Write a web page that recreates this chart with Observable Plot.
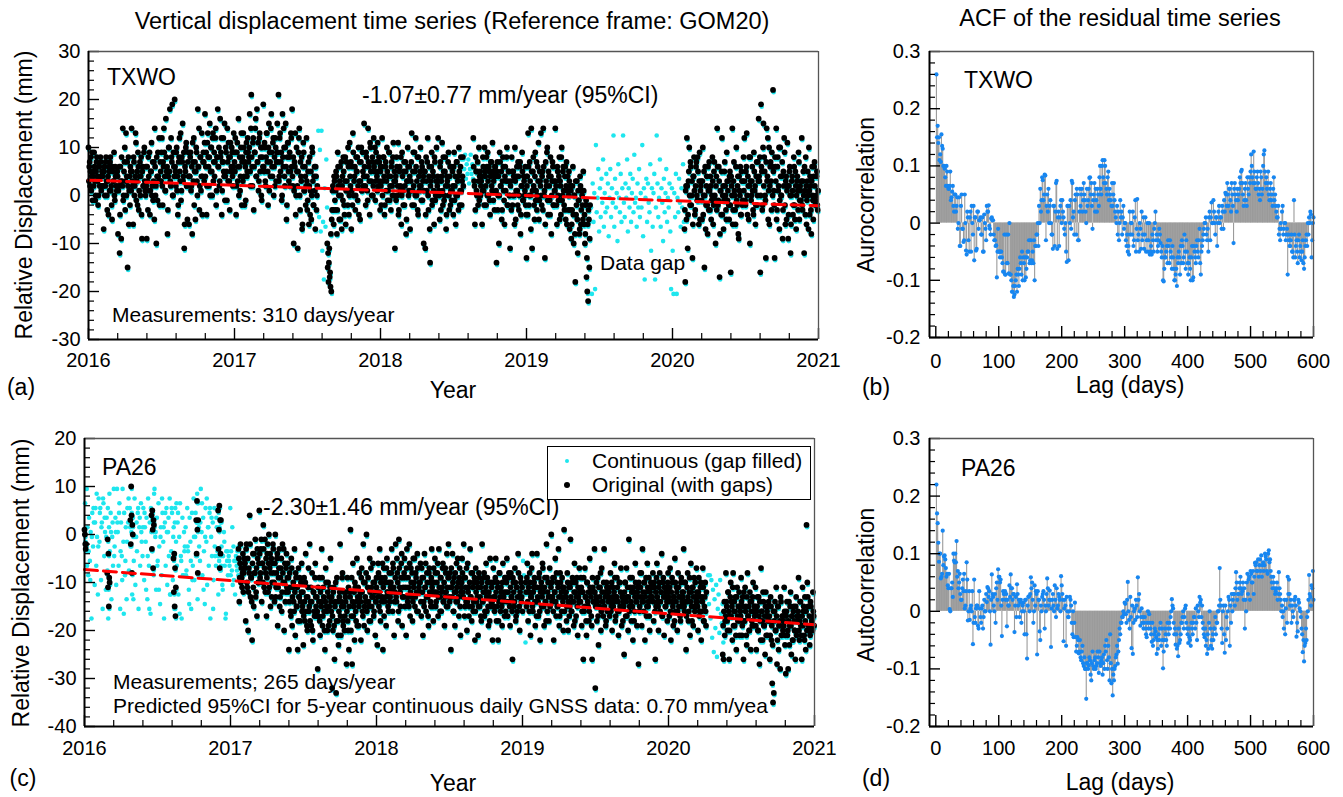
<!DOCTYPE html>
<html><head><meta charset="utf-8">
<script src="https://cdn.jsdelivr.net/npm/d3@7"></script>
<script src="https://cdn.jsdelivr.net/npm/@observablehq/plot@0.6"></script>
<style>
html,body{margin:0;padding:0;background:#fff;}
#fig{position:relative;width:1343px;height:797px;overflow:hidden;font-family:"Liberation Sans",Arial,Helvetica,sans-serif;color:#000;}
.lbl{position:absolute;white-space:nowrap;line-height:1.15;}
.pl{position:absolute;}
</style></head><body><div id="fig"></div>
<script>
const _ = null;
// ---- TXWO original series (mm): "a" arrays = even days from 1 Jan, "b" arrays = odd days from 2 Jan, every 2 days ----
const txwo2016a = [10,6,2,8,4,-1,5,9,3,0,7,4,-2,6,2,8,1,5,
4,-7,6,2,8,0,3,-4,5,7,1,-2,6,3,9,-1,4,2,
5,-8,2,-12,6,-9,3,14,0,7,-3,13,4,-15,8,1,-2,5,
14,3,-6,7,2,13,-1,5,9,-3,4,0,8,-9,6,2,10,1,
6,-9,3,8,1,-4,5,11,2,-1,7,14,0,-10,4,9,3,-2,
7,3,12,-2,6,9,1,16,5,-8,4,10,18,2,8,19,0,6,
20,5,9,1,-4,7,12,3,-1,8,15,4,-11,6,10,2,-5,9,
-6,4,9,2,-8,7,12,5,-5,10,3,18,6,-3,8,1,13,4,
9,3,17,6,-4,11,8,2,15,5,10,0,13,7,4,12,-2,8,
18,6,2,16,9,-4,7,12,4,-1,10,5,14,3,8,-3,11,6,9,2,13];
const txwo2016b = [3,7,5,1,9,4,2,6,-1,5,8,3,0,6,4,7,2,5,
2,5,0,7,3,-3,4,6,1,8,2,-5,5,3,0,6,4,1,
4,1,6,-4,3,8,2,-1,5,10,3,0,7,2,-6,4,6,1,
5,2,8,0,4,11,3,-2,6,1,7,4,-4,5,2,9,3,0,
2,6,-3,4,9,1,5,0,7,3,-5,6,2,8,-1,4,12,3,
5,9,2,7,14,4,1,8,6,-3,10,5,3,12,7,0,9,4,
6,2,10,4,-2,8,5,13,1,7,3,9,-6,5,11,2,7,4,
4,8,1,6,11,3,-2,7,5,9,0,6,14,2,8,4,-4,7,
7,11,4,9,2,13,6,8,0,10,5,12,3,9,7,14,1,8,
6,10,3,8,12,1,7,5,15,4,9,-1,7,11,3,8,5,10,4,6,9];
const txwo2017a = [7,12,-4,9,3,16,6,1,10,-2,8,13,4,7,-1,11,5,9,
8,17,2,21,6,11,-3,9,14,4,18,7,1,12,5,10,-1,8,
19,5,10,2,13,7,-2,15,9,4,17,6,11,0,8,12,3,9,
9,21,4,13,7,-1,17,6,10,2,15,-5,8,11,3,9,5,12,
18,2,-10,7,13,0,5,-11,9,14,-3,4,8,-6,11,1,6,-2,
12,-3,5,-6,8,1,-5,10,3,-2,6,-7,4,0,_,_,_,_,
_,_,_,_,_,_,_,_,-10,-12,-14,-17,-19,-20,-3,2,-6,3,
-3,5,-8,9,2,-5,6,0,-7,4,8,-2,3,-6,7,1,10,-4,
11,2,-7,6,13,0,4,-3,8,5,-1,10,3,-5,7,1,9,2,
15,4,-2,8,1,14,6,-4,10,3,7,0,12,5,-1,9,4,11,2,7,-3];
const txwo2017b = [5,9,2,11,6,0,8,4,13,7,3,10,-2,6,9,4,12,7,
10,5,14,8,2,12,6,9,16,4,7,11,3,13,8,0,10,6,
6,11,3,8,13,5,10,1,7,14,9,4,12,6,2,10,7,15,
7,3,12,5,9,0,8,14,4,10,6,-2,11,5,8,2,13,6,
4,8,1,6,-4,10,2,5,12,0,7,3,-7,6,9,1,4,2,
3,-1,7,2,-4,5,0,9,-2,4,1,6,-3,2,_,_,_,_,
_,_,_,_,_,_,_,_,-15,-18,-11,-16,-8,-5,1,-3,4,-1,
1,4,-3,6,0,3,-5,7,2,-1,5,-4,8,1,3,-2,6,0,
4,7,1,-2,9,3,6,0,5,8,2,-4,7,3,10,1,5,4,
6,2,9,4,-1,7,3,11,5,0,8,2,6,10,3,7,1,5,8,3,6];
const txwo2018a = [5,-2,12,3,8,-4,6,1,10,-1,4,9,2,-3,7,0,11,3,
-11,4,8,0,11,-3,6,2,-6,9,1,5,-2,7,-8,3,10,0,
6,-7,3,13,1,9,-2,5,12,0,8,-4,4,2,10,-1,6,3,
-10,5,-11,8,1,12,-3,6,-14,3,9,-1,4,-6,7,0,10,2,
12,1,-5,7,3,11,-2,5,0,8,-7,4,2,9,-3,6,1,-1,
5,-4,9,2,-6,7,0,4,10,-2,6,1,3,8,_,_,_,_,
_,_,_,_,_,_,_,_,12,3,-6,8,1,5,-2,10,4,0,
3,-6,8,1,10,4,-2,6,9,0,5,-4,7,2,11,-1,4,6,
4,-14,7,0,-10,9,2,5,-3,8,1,-6,6,3,10,-2,5,0,
-11,3,8,-2,5,0,10,-5,4,1,7,-3,6,-8,2,9,-1,4,0,6,-4];
const txwo2018b = [2,6,0,8,4,-2,7,3,5,1,9,-1,4,6,2,8,0,5,
3,-1,6,2,-4,5,1,8,0,4,-2,7,2,5,-5,3,6,1,
4,1,7,-2,5,2,9,0,6,3,-3,8,1,5,2,7,-1,4,
1,5,-4,3,7,0,4,-7,2,6,-2,5,1,8,-1,3,0,4,
3,0,6,-3,4,1,8,-1,5,2,-4,3,7,0,4,-2,6,1,
2,6,-1,4,0,7,3,-3,5,1,8,-2,4,2,_,_,_,_,
_,_,_,_,_,_,_,_,6,2,-3,5,0,7,3,-1,5,2,
4,1,6,-2,5,2,8,0,3,6,-1,4,7,1,5,3,-3,6,
1,5,-3,4,0,7,2,-5,3,6,-1,4,1,8,-2,3,5,0,
2,-3,5,0,4,-6,3,1,6,-2,4,0,7,-4,2,5,-1,3,1,-2,4];
const txwo2019a = [-13,4,13,-2,7,0,14,-11,5,2,-5,9,1,-3,6,11,-1,3,
13,-2,5,14,0,-13,7,2,10,-4,4,-1,8,-8,3,6,-2,1,
14,2,-6,5,-1,8,3,-4,10,0,6,-2,4,-5,7,1,-3,5,
-7,2,-9,-3,6,-10,0,-18,-4,3,-12,-1,-8,4,-6,1,-2,5,
-6,-10,-2,-17,-20,-22,-5,-9];
const txwo2019b = [2,-4,6,0,3,-7,5,1,8,-2,4,-1,7,0,3,-5,5,2,
0,4,-3,6,1,-6,3,9,-1,5,2,-4,4,0,7,-2,3,1,
3,-2,6,0,4,-5,2,8,-1,5,1,-3,6,2,-6,4,0,3,
-3,1,-6,2,-4,0,-8,3,-2,-5,1,-1,-7,2,-3,0,-5,1,
-4,-8,-1,-13,-6,-3,-15,-2];
const txwo2020a = [_,_,_,_,_,_,_,_,_,_,_,_,_,_,_,-7,-18,2,
12,-11,3,10,-2,6,0,-13,4,8,-4,2,7,-1,5,-6,9,1,
3,-5,10,0,-15,6,-2,4,-8,1,7,-3,2,-1,8,-6,5,0,
-10,4,14,-2,6,-17,1,-4,12,0,-7,5,2,-3,9,-1,3,-5,
5,-16,2,14,-3,7,0,-6,10,-2,4,-9,1,6,-4,3,-1,8,
12,-1,5,13,-4,2,8,-10,3,0,6,-3,9,1,-6,4,-2,7,
16,3,-16,19,5,-2,15,8,0,-13,14,4,-5,10,2,7,-3,6,
22,1,-13,6,14,-3,8,2,-7,10,0,4,-9,5,12,-2,3,-5,
11,-9,2,6,-12,0,4,-4,8,-2,5,-7,3,1,9,-5,2,-1,
12,-3,5,-12,1,8,-6,3,0,10,-4,2,-8,6,-1,4,7,-2,0,5,-3];
const txwo2020b = [_,_,_,_,_,_,_,_,_,_,_,_,_,_,_,-3,1,-5,
2,-4,5,0,7,-2,3,-6,4,1,-3,6,0,8,-1,3,-5,2,
-1,3,-4,5,0,-7,2,-2,6,-3,1,4,-5,0,3,-2,7,-1,
2,-3,6,-1,3,-8,1,5,-4,2,-1,7,0,-5,3,1,-2,4,
-2,4,0,-6,3,1,-3,6,-1,2,-8,4,0,-4,5,-2,3,1,
3,-2,6,0,4,-5,2,8,-1,3,1,-4,5,2,-2,7,0,3,
4,8,0,6,-3,10,2,5,-1,7,3,12,1,-6,6,3,9,0,
5,-2,8,3,-5,6,1,10,-1,4,0,7,-3,2,9,-6,4,1,
2,-4,5,0,-6,3,1,-2,6,-5,2,0,4,-3,7,-1,1,3,
-2,3,0,6,-4,2,-1,5,-7,1,4,-3,3,0,-5,6,2,-1,4,-2,1];
// ---- TXWO gap-filled values (continuous series where the original is missing), every 2 days ----
const txwoFill2017Start = "2017-07-28";
const txwoFill2017 = [14,-4,10,-7,14,-11,-5,-17,2,-6,8,-2];
const txwoFill2018Start = "2018-07-28";
const txwoFill2018 = [6,9,4,7,5,8,3,6,9,5,7,4];
const txwoFill2019Start = "2019-06-10";
const txwoFill2019 = [-2,-20,3,-5,1,-19,11,-3,0,6,-7,2,-4,4,-1,8,-6,1,-3,5,
-2,3,-8,0,6,-4,2,-1,13,-6,4,-2,1,-9,7,0,-3,5,-5,2,
13,-1,-4,3,0,8,-7,2,-2,5,-5,1,4,-3,9,-1,0,-6,3,-2,
6,-4,1,-2,11,-8,2,-17,0,4,-5,3,-1,-3,7,-11,2,-6,1,5,
-17,-2,13,3,-4,0,8,-6,2,-1,-9,4,-3,1,6,-5,0,-2,3,-7,
-19,2,-11,-20,1,-4,5,-20,0,-3,4,-1,-6,2,-2,7,-5];
const txwoTrendYears = [2016, 2021];
const txwoTrendValues = [3.2, -2.15];

// ---- PA26 original series ----
const pa26Runs2016Start = ["2016-01-01","2016-02-27","2016-04-25","2016-06-17","2016-08-11","2016-10-07","2016-12-01"];
const pa26Runs2016 = [[1,0,-2,-3,-2],[-8,-1,-11,-4,-15,-9,-10],[3,-2,10,4,-8,2,0],[4,-3,5,1,-7,3,2],
[-5,-12,-4,-15,-7,-17,-11],[3,-4,7,1,-8,3],[5,-3,1,6,-7,3,-4,3]];
const pa26_2017a = [_,_,_,_,_,_,_,_,_,_,-3,-14,-6,-10,-9,-8,-12,-5,
-6,-18,-2,-11,-20,-7,4,-13,-9,-22,-4,-15,-8,-1,-12,-17,-5,-10,
5,-9,-3,-14,-6,2,-11,-1,-8,-17,-4,-12,0,-7,-15,-5,-10,-2,
-8,-14,0,-11,-5,-19,-9,-3,-13,-7,-16,-2,-10,-20,-6,-12,-4,-9,
-12,-24,-8,-16,-5,-19,-11,-14,-3,-21,-9,-15,-24,-7,-13,-18,-10,-6,
-15,-23,-9,-18,-4,-13,-20,-11,-16,-2,-14,-19,-8,-22,-12,-17,-6,-15,
-13,-28,-17,-9,-21,-14,-3,-19,-11,-16,-24,-7,-15,-20,-10,-13,-18,-5,
-16,-32,-20,-11,-26,-14,-33,-9,-18,-23,-13,-2,-21,-15,-8,-19,-12,-17,
-14,-27,-9,-20,-24,-12,1,-17,-27,-6,-15,-22,-11,-18,-5,-13,-19,-8,
-12,-22,-7,-16,-2,-19,-10,-14,0,-20,-9,-15,-5,-18,-11,-13,-6,-17,-10,-21,-14];
const pa26_2017b = [_,_,_,_,_,_,_,_,_,_,-5,-9,-2,-7,-11,-4,-8,-6,
-7,-3,-10,-5,-12,-8,-2,-9,-14,-6,-11,-4,-8,-13,-7,-3,-10,-6,
-4,-8,-1,-6,-10,-3,-7,-12,-5,-9,-2,-6,-11,-4,-8,-13,-6,-3,
-10,-6,-13,-8,-4,-11,-7,-15,-9,-5,-12,-8,-3,-10,-14,-7,-11,-6,
-9,-14,-11,-17,-7,-13,-10,-16,-12,-8,-15,-11,-18,-13,-9,-14,-12,-16,
-12,-17,-14,-10,-16,-19,-13,-7,-15,-18,-11,-14,-20,-12,-16,-9,-13,-17,
-16,-11,-14,-18,-12,-15,-9,-17,-13,-20,-14,-10,-16,-12,-19,-15,-11,-14,
-13,-17,-12,-19,-15,-10,-18,-14,-21,-16,-12,-17,-14,-9,-18,-15,-20,-13,
-12,-16,-18,-11,-15,-13,-20,-9,-14,-17,-12,-10,-16,-14,-19,-11,-15,-13,
-14,-9,-12,-17,-10,-15,-13,-8,-16,-11,-14,-18,-12,-7,-15,-13,-10,-16,-12,-14,-9];
const pa26_2018a = [-11,-23,-6,-15,-3,-18,-9,-13,-24,-7,-14,-10,-19,-5,-12,-16,-8,-13,
-10,-3,-16,-7,-21,-12,-2,-14,-8,-18,-1,-11,-15,-6,-19,-9,-13,-5,
-9,-21,-3,-14,-11,-2,-17,-7,-13,-18,-5,-10,-15,-8,-12,-4,-16,-11,
-12,-6,-17,-9,-21,-14,-4,-11,-16,-8,-13,-19,-7,-10,-15,-3,-12,-18,
-10,-5,-15,-12,-8,-17,-3,-13,-9,-16,-11,-6,-14,-19,-7,-12,-4,-15,
-2,-13,-8,-24,-11,-4,-16,-9,-19,-12,-6,-14,-10,-17,-7,-21,-11,-5,
-12,-2,-17,-9,-14,-20,-6,-11,-15,-3,-13,-18,-8,-16,-10,-22,-7,-14,
-13,-21,-8,-15,-11,-18,-2,-14,-9,-17,-12,-6,-16,-10,-19,-13,-5,-15,
-11,-22,-7,-15,-13,-5,-18,-10,-22,-14,-8,-16,-12,-19,-6,-13,-17,-9,
-12,-5,-17,-9,-14,-19,-8,-13,-26,-10,-15,-7,-18,-11,-16,-4,-13,-20,-9,-14,-11];
const pa26_2018b = [-9,-13,-8,-12,-16,-10,-14,-6,-11,-17,-9,-13,-7,-12,-15,-10,-14,-11,
-8,-12,-6,-11,-14,-9,-13,-5,-10,-16,-7,-12,-9,-4,-13,-11,-8,-15,
-11,-7,-13,-9,-15,-6,-12,-10,-8,-14,-11,-5,-13,-9,-16,-7,-12,-10,
-10,-14,-7,-12,-9,-15,-11,-6,-13,-10,-17,-8,-12,-14,-9,-11,-15,-7,
-12,-8,-14,-10,-6,-13,-11,-16,-9,-12,-7,-14,-10,-13,-8,-15,-11,-9,
-9,-14,-11,-7,-13,-10,-16,-12,-8,-14,-11,-5,-13,-9,-15,-12,-10,-8,
-13,-9,-15,-11,-7,-14,-12,-17,-10,-13,-8,-15,-11,-14,-9,-16,-12,-10,
-11,-15,-9,-13,-17,-10,-14,-12,-8,-16,-11,-13,-9,-15,-12,-18,-10,-14,
-14,-10,-13,-16,-9,-12,-15,-11,-18,-8,-13,-11,-15,-10,-14,-12,-9,-16,
-10,-14,-12,-8,-15,-11,-13,-16,-9,-12,-14,-10,-17,-11,-13,-8,-15,-12,-10,-13,-16];
const pa26_2019a = [_,_,_,_,-10,-15,-6,-18,-12,-8,-21,-13,-4,-16,-11,-9,-19,-14,
-4,-13,-17,-8,-22,-11,-15,-6,-12,-19,-9,-14,-2,-16,-10,-18,-7,-13,
0,-14,-9,-22,-12,-5,-17,-10,-15,-3,-19,-8,-13,-16,-11,-20,1,-12,
-13,-18,-8,-20,-11,-15,-1,-16,-10,-14,-19,-6,-12,-17,-9,-21,-13,-7,
-14,-9,-19,-12,-26,-16,-7,-13,-21,-10,-15,-18,-5,-12,-17,-26,-11,-14,
-3,-32,-13,-18,-9,-23,-15,-11,-20,-7,-14,-17,-3,-12,-19,-10,-16,-13,
-12,-17,-8,-15,-20,-11,-14,-6,-18,-13,-9,-16,-21,-10,-15,-7,-19,-13,
-14,-25,-10,-17,-7,-13,-20,-1,-15,-11,-18,-9,-22,-12,-16,-6,-14,-19,
-11,-27,-16,-8,-13,-19,-3,-14,-10,-22,-12,-17,-6,-15,-9,-20,-13,-11,
-13,-8,-18,-11,-26,-15,-6,-14,-20,-10,-16,-12,-4,-17,-9,-21,-13,-15,-11,-18,-8];
const pa26_2019b = [_,_,_,_,-12,-9,-14,-11,-16,-10,-13,-7,-15,-12,-10,-14,-11,-17,
-11,-14,-9,-16,-12,-10,-13,-7,-15,-11,-14,-18,-9,-12,-13,-10,-15,-11,
-10,-13,-16,-9,-12,-14,-8,-15,-11,-13,-17,-10,-12,-9,-14,-11,-16,-13,
-12,-15,-10,-14,-17,-11,-13,-16,-9,-14,-12,-18,-10,-13,-15,-11,-14,-12,
-14,-11,-16,-12,-9,-15,-13,-18,-10,-14,-12,-16,-11,-13,-19,-9,-14,-12,
-12,-15,-10,-14,-17,-11,-13,-8,-16,-12,-14,-10,-15,-13,-18,-11,-12,-14,
-11,-14,-16,-10,-13,-15,-12,-9,-17,-13,-11,-14,-16,-10,-12,-15,-13,-18,
-15,-12,-10,-14,-17,-11,-13,-16,-9,-14,-12,-15,-11,-18,-13,-10,-14,-12,
-13,-10,-15,-11,-8,-14,-12,-16,-10,-13,-9,-15,-11,-14,-17,-12,-10,-13,
-11,-14,-10,-16,-12,-9,-13,-15,-11,-8,-14,-12,-17,-10,-13,-11,-15,-12,-14,-10,-13];
const pa26_2020a = [-12,-17,-7,-22,-14,-10,-19,-13,-5,-16,-11,-20,-8,-15,-13,-18,-9,-14,
-13,-3,-16,-10,-24,-14,-8,-18,-12,-21,-6,-15,-11,-19,-9,-16,-13,-7,
-14,-20,-9,-16,-11,-22,-13,-7,-18,-15,-10,-19,_,_,_,_,_,_,
_,_,_,_,_,_,_,_,_,_,_,_,_,_,-25,-26,-14,-18,
-8,-15,-20,-12,-26,-17,-10,-14,-22,-8,-16,-19,-13,-24,-11,-18,-15,-21,
-16,-9,-21,-13,-26,-18,-11,-15,-23,-8,-17,-20,-12,-24,-14,-19,-10,-16,
-17,-11,-24,-15,-20,-13,-27,-18,-7,-16,-22,-14,-19,-25,-12,-17,-21,-15,
-18,-26,-13,-22,-31,-35,-33,-16,-20,-11,-27,-15,-24,-19,-28,-14,-21,-17,
-18,-11,-23,-29,-16,-21,-28,-14,-19,-12,-25,-17,-22,-15,-20,-26,-13,-18,
-17,-9,-22,-14,-19,-26,-11,-16,-21,-13,-24,2,-10,-15,-20,-23,-14,-19,-18,-12,-17];
const pa26_2020b = [-14,-11,-16,-12,-9,-15,-13,-18,-10,-14,-12,-16,-11,-13,-17,-10,-15,-12,
-12,-15,-10,-14,-17,-11,-13,-16,-9,-14,-12,-18,-11,-13,-15,-10,-14,-12,
-15,-12,-17,-13,-10,-16,-14,-11,-18,-13,-16,-12,_,_,_,_,_,_,
_,_,_,_,_,_,_,_,_,_,_,_,_,_,-19,-16,-21,-17,
-14,-18,-12,-16,-20,-13,-17,-15,-11,-19,-14,-16,-21,-13,-17,-15,-12,-18,
-17,-14,-19,-15,-12,-18,-16,-21,-13,-17,-15,-20,-14,-16,-18,-13,-19,-15,
-15,-19,-16,-13,-20,-17,-14,-22,-16,-18,-12,-19,-17,-15,-21,-16,-18,-14,
-17,-21,-15,-19,-23,-16,-18,-14,-20,-17,-22,-15,-19,-18,-13,-21,-17,-20,
-19,-16,-21,-17,-14,-20,-18,-23,-15,-19,-17,-22,-16,-18,-20,-15,-21,-17,
-16,-20,-18,-14,-21,-17,-19,-15,-22,-18,-16,-20,-13,-19,-17,-21,-15,-18,-20,-16,-19];
// ---- PA26 gap-filled values ----
const pa26Fill2016aStart = "2016-01-01";   // every 2 days
const pa26Fill2016a = [7,-3,10,2,-8,4,-5,1,-17,5,-2,3,-10,6,-6,0,-12,8,
-1,6,-9,3,-15,7,-4,1,-11,4,-7,-17,2,-3,5,-13,0,-6,
10,-2,4,-10,10,1,-6,7,-15,3,-4,10,-1,5,-8,2,-13,6,
3,-7,6,-2,1,-12,4,-5,8,-10,0,-3,5,-15,2,-6,7,-1,
-4,6,-9,2,-1,4,-13,8,-6,3,-16,1,-3,5,-8,10,0,-11,
4,-5,7,-2,-14,2,-8,5,-1,-17,3,-6,6,-10,1,-4,8,-12,
-3,5,-9,2,-15,6,-1,-6,3,-12,0,7,-4,-17,4,-8,1,-2,
2,-7,6,-3,-11,4,-1,-15,5,-6,8,-9,0,-4,3,-13,7,-2,
-5,10,1,-8,4,-3,-14,6,-1,-10,2,-6,5,-17,0,-4,3,-9,
6,-4,-6,2,-3,-12,-5,6,-7,-2,-10,-4,1,-6,-17,-3,-5,-8,
-4,-6,6,-3,-7,-10,-2,-5,-12,-4,-6,-3,-8];
const pa26Fill2016bStart = "2016-01-02";   // every 4 days
const pa26Fill2016b = [-1,-6,-3,-9,0,6,3,9,-2, 5,2,8,4,0,6,9,1,3, -4,1,3,5,-3,-9,-16,-5,-1,
8,2,5,-13,0,3,6,4,1, 2,5,-11,-4,-15,6,4,9,1, -6,-11,0,8,2,5,1,4,-12,
6,0,3,7,5,-16,-5,-8,-3, -8,-2,-14,-5,-9,0,5,9,2, 3,7,-11,0,8,2,6,4,-15,
-2,4,-4,2,-6,-11,-1,-16,-3, -5,-8,2,-9,-5,-7,-2];
const pa26Fill2019Start = "2019-01-01";
const pa26Fill2019 = [-5,-8,-12,-22];
const pa26Fill2020Start = "2020-04-08";
const pa26Fill2020 = [-8,-14,-8,-17,-9,-21,-11,-24,-13,-19,-10,-25,-15,-12,-20,-9,-16,-18,-14,-22];
const pa26TrendYears = [2016, 2021];
const pa26TrendValues = [-7.3, -18.8];

// ---- ACF of residuals: odd lags 1,3,...,599 and even lags 2,4,...,600 ----
const txwoAcfOdd = [.26,.17,.15,.12,.155, .13,.1,.08,.1,.065, .06,.09,.045,.065,.02, .05,.03,-.01,.045,-.04,
.05,-.01,-.03,.0,-.055, .01,-.05,.02,.03,-.02, -.065,.01,-.045,.02,.005, .01,-.02,-.05,.015,-.01,
.03,.02,-.005,-.02,.01, .005,-.03,-.04,-.095,-.01, -.05,-.05,-.06,-.085,-.02, -.09,-.07,-.02,.0,-.09,
-.12,-.11,-.125,-.1,-.12, -.09,-.08,-.07,-.05,-.06, -.1,-.095,-.06,-.05,-.07, -.03,-.065,-.07,-.1,-.04,
-.02,-.04,.0,.02,.08, .04,.085,-.03,.05,.06, .03,.0,-.02,.03,-.04, .07,-.045,.02,.01,.04,
.04,.01,-.02,-.05,.03, -.065,.0,-.01,.07,.02, .04,-.02,.05,-.03,.06, .05,.02,.07,.04,.0,
.03,.06,.08,.07,-.01, .05,.02,.04,.06,.03, .1,.05,.11,.07,.1, .06,.08,.04,.05,.03,
.03,.07,.02,.0,-.02, -.03,.04,.02,.01,-.01, .0,-.04,-.05,-.055,-.02, .0,.02,-.03,.04,-.01,
-.03,-.05,-.01,.02,-.02, -.045,.01,-.03,-.05,.0, -.05,-.055,-.03,-.01,.02, -.02,-.04,-.01,-.035,-.06,
-.1,-.08,-.06,-.04,-.03, -.07,-.05,-.08,-.06,-.1, -.09,-.11,-.07,-.06,-.04, -.03,-.07,-.02,-.08,-.05,
-.09,-.06,-.1,-.04,-.095, -.05,-.07,-.03,-.06,-.01, -.09,-.04,-.02,.0,.01, -.03,-.05,.02,.01,.0,
.04,.0,.01,-.04,.02, .0,.01,.03,-.01,.02, .05,.07,.03,.06,.02, .05,-.035,.07,.04,.06,
.05,.08,.09,.07,.03, .06,.04,.08,.05,.07, .12,.08,.125,.07,.06, .09,.05,.04,.08,.06,
.12,.09,.08,.07,.05, .06,.04,.03,.08,.05, .02,.01,-.02,-.03,-.01, .03,-.01,.0,-.02,-.09,
-.03,-.04,-.02,-.05,.04, -.06,-.03,-.07,-.02,-.04, -.065,-.03,-.08,-.04,-.02, .0,.01,.02,-.06,.0];
const txwoAcfEven = [.15,.14,.11,.107,.135, .1,.095,.065,.09,.06, .065,.04,.055,.03,.05, .02,.045,.0,-.04,.03,
-.01,-.033,.05,-.048,.02, -.03,.01,-.05,.0,.03, .01,-.048,.02,-.01,.005, -.02,.01,-.05,.0,-.03,
.02,.031,-.01,.008,.005, -.02,-.03,-.039,-.05,-.05, -.06,-.05,-.07,-.085,-.09, -.02,-.07,-.088,-.09,-.1,
-.12,-.129,-.11,-.09,-.08, -.11,-.06,-.09,-.1,-.07, -.06,-.08,-.05,-.03,-.065, -.07,-.05,-.03,-.04,-.02,
.0,.03,.06,.04,.075, .05,.083,.03,.02,.0, .04,-.02,-.045,.03,.02, .074,.01,-.04,.03,.0,
.02,-.01,.0,-.068,.03, .03,.04,.074,.01,-.02, .05,.06,-.03,.02,.03, .06,.04,.05,.02,.06,
.04,.079,.05,.03,.04, .07,.06,.02,.05,.08, .06,.1,.08,.11,.07, .05,.09,.06,.04,.07,
.05,.04,.01,.03,.02, .0,.01,-.02,.03,.0, -.03,-.02,-.04,.02,.0, -.02,-.04,.01,-.05,.042,
-.02,.0,-.045,-.03,.01, -.02,-.05,.0,-.03,-.055, -.04,-.02,-.05,.0,-.03, -.05,-.03,-.02,-.05,-.04,
-.102,-.06,-.05,-.07,-.04, -.03,-.06,-.04,-.08,-.1, -.08,-.06,-.05,-.09,-.07, -.04,-.06,-.05,-.03,-.07,
-.07,-.08,-.06,-.1,-.04, -.06,-.04,-.05,-.03,-.07, -.05,-.03,-.01,.0,-.02, -.01,.01,-.03,.036,.0,
.02,-.02,.01,.0,.03, .01,-.01,.02,.04,.053, .03,.05,.06,.04,.07, .03,.06,.05,.02,.04,
.06,.07,.093,.05,.04, .07,.03,.06,.08,.09, .1,.07,.09,.06,.08, .07,.06,.09,.05,.1,
.127,.07,.06,.09,.04, .07,.05,.06,.04,.03, .01,.03,-.01,.0,.02, -.02,.0,-.03,-.01,-.02,
-.04,-.03,-.05,-.06,-.02, -.04,-.05,-.03,-.06,-.05, -.05,-.07,-.06,-.03,-.04, -.02,.0,.015,-.03,.01];
const pa26AcfOdd = [.22,.153,.086,.1,.06, .14,.095,.09,.06,.045, .065,.0,.04,.025,.088, .1,.122,.07,.05,.03,
.02,.055,.065,.01,.085, -.016,.035,.005,.0,-.057, .055,-.02,.01,-.025,.035, -.01,.005,-.03,.02,.0,
.016,.04,.035,-.058,.064, .025,.0,-.02,.05,.073, .06,.055,-.043,.035,.03, .02,-.026,.01,.045,.064,
.04,.03,-.036,.025,.047, .01,-.01,.02,.0,.015, -.04,.02,-.082,.025,.0, .059,.05,-.02,.045,.035,
-.075,.02,-.035,.01,.025, .035,-.03,.0,.057,.01, .036,-.062,.02,.01,.045, -.01,.005,.03,.02,.061,
.03,-.052,.02,-.06,.0, -.01,.025,.01,-.04,-.045, .015,-.07,-.045,-.073,-.05, -.085,-.06,-.095,-.1,-.152,
-.09,-.094,-.085,-.12,-.07, -.1,-.08,-.095,-.07,-.107, -.09,-.085,-.11,-.075,-.06, -.05,-.1,-.08,-.04,-.125,
-.146,-.12,-.095,-.075,-.091, -.05,-.04,-.02,-.01,-.005, .013,-.02,.051,-.015,.025, -.064,-.074,.0,-.015,.01,
.059,.03,-.025,.005,-.01, -.02,-.03,-.045,.0,-.005, -.03,-.053,-.06,-.04,-.035, -.074,-.065,-.05,-.02,-.03,
-.099,-.05,-.04,-.06,-.03, -.02,-.01,.021,.005,-.04, -.058,-.065,-.078,-.055,-.04, -.02,.0,-.01,.01,-.03,
-.055,-.045,-.06,-.03,-.02, -.01,.005,-.05,.0,.025, .02,.01,-.03,-.045,-.06, -.074,-.065,.0,-.06,-.065,
-.05,-.03,-.04,-.02,.0, .075,.01,-.055,.01,-.072, -.05,-.03,.025,-.06,-.02, .0,.03,.01,.068,.02,
.03,.05,.04,.035,.02, -.03,.0,.065,.055,.02, .065,.05,.03,.084,.085, .07,.06,.09,.097,.08,
.07,.1,.09,.065,.106, .09,.06,.04,.05,.03, .04,.02,.068,.03,.0, -.01,-.03,-.04,.02,.06,
.055,.01,-.02,.0,.02, .025,-.044,-.035,.015,.0, -.03,-.071,-.087,-.055,-.05, .0,.063,.025,.045,.07];
const pa26AcfEven = [.17,.119,.1,.057,.065, .08,.097,.075,.065,.04, .004,.04,.05,.1,.085, .085,.06,.04,.065,.02,
.04,.035,.005,.035,.055, .0,-.015,.01,.035,-.02, -.01,.005,.01,-.03,.005, -.02,.01,-.01,.0,.03,
.042,.025,.0,.02,.03, .01,.03,.04,.02,.06, .05,.01,.02,.03,.035, .03,.02,.01,.025,.04,
.02,.03,.01,-.01,.03, .02,.015,-.02,.01,.0, .02,-.04,.01,.026,.03, .04,.02,.0,.01,.03,
.035,.02,-.05,.0,.03, .02,.01,.03,.04,.02, .02,.005,.03,.0,.02, .04,.01,.025,.0,.045,
.02,.005,.01,.025,-.01, .0,.02,-.02,.0,-.02, -.045,-.06,-.05,-.07,-.08, -.07,-.09,-.08,-.1,-.09,
-.1,-.08,-.11,-.09,-.095, -.085,-.1,-.09,-.08,-.07, -.095,-.08,-.09,-.1,-.07, -.085,-.06,-.12,-.09,-.1,
-.11,-.1,-.08,-.06,-.07, -.03,-.02,-.01,.0,.015, -.005,.02,.0,-.03,-.01, .01,-.02,.005,.02,-.01,
.02,.0,-.01,-.02,-.03, -.01,-.04,-.02,-.03,-.02, -.04,-.02,-.05,-.03,-.045, -.05,-.04,-.03,-.06,-.05,
-.07,-.03,-.05,-.02,-.04, -.03,.0,.01,-.02,-.03, -.04,-.06,-.03,-.05,-.02, -.01,-.03,.005,-.02,-.04,
-.03,-.05,-.02,-.04,-.01, -.03,-.02,.01,-.01,.015, -.01,-.02,-.04,-.03,-.05, -.04,-.02,-.03,-.05,-.04,
-.03,-.01,-.02,.0,.01, .02,-.03,.0,-.04,.01, -.01,.0,.02,.01,.03, .02,.03,.04,.05,.03,
.04,.06,.03,.05,.04, .02,.05,.03,.06,.07, .05,.07,.06,.08,.07, .09,.08,.07,.06,.085,
.08,.095,.07,.1,.085, .07,.05,.06,.04,.035, .05,.03,.04,.02,.01, .0,.02,.005,-.02,.03,
.03,.02,.01,-.01,.02, .01,-.02,.02,.005,-.01, -.04,-.05,-.06,-.03,-.01, .02,.03,.01,.04,.02];

// ---- tick values ----
const yearTicks = [2016, 2017, 2018, 2019, 2020, 2021];
const txwoYTicks = [-30, -20, -10, 0, 10, 20, 30];
const pa26YTicks = [-40, -30, -20, -10, 0, 10, 20];
const lagTicks = [0, 100, 200, 300, 400, 500, 600];
const acfYTicks = [-0.2, -0.1, 0, 0.1, 0.2, 0.3];

// ---------- helpers ----------
const FONT = '"Liberation Sans", Arial, Helvetica, sans-serif';
const fig = document.getElementById("fig");
function decYear(t) {
  const y = new Date(t).getUTCFullYear();
  const a = Date.UTC(y, 0, 1), b = Date.UTC(y + 1, 0, 1);
  return y + (t - a) / (b - a);
}
function pts(startMs, stepDays, arr) {
  const out = [];
  arr.forEach((v, i) => { if (v != null) out.push({x: decYear(startMs + i * stepDays * 86400000), v}); });
  return out;
}
const ms = s => Date.parse(s + "T00:00:00Z");
const yearPts = (y, arrA, arrB) => [...pts(Date.UTC(y, 0, 1), 2, arrA), ...pts(Date.UTC(y, 0, 2), 2, arrB)];
function label(text, x, y, size, anchor = "middle", rotate = 0) {
  const d = document.createElement("div");
  d.className = "lbl";
  d.textContent = text;
  d.style.left = x + "px"; d.style.top = y + "px"; d.style.fontSize = size + "px";
  const tx = anchor === "start" ? "0" : anchor === "end" ? "-100%" : "-50%";
  d.style.transform = `translate(${tx},-50%)` + (rotate ? ` rotate(${rotate}deg)` : "");
  fig.appendChild(d);
  return d;
}
function place(svg, left, top) {
  const w = document.createElement("div");
  w.className = "pl"; w.style.left = left + "px"; w.style.top = top + "px";
  w.appendChild(svg); fig.appendChild(w);
}
function frameMarks(xMin, xMax, yMin, yMax, xMaj, xMin2, yMaj, yMin2, iw, ih) {
  return [
    Plot.tickX(xMaj, {x: d => d, insetTop: ih - 11, stroke: "#000", strokeWidth: 1.4}),
    Plot.tickX(xMin2, {x: d => d, insetTop: ih - 6, stroke: "#000", strokeWidth: 1.2}),
    Plot.tickY(yMaj, {y: d => d, insetRight: iw - 11, stroke: "#000", strokeWidth: 1.4}),
    Plot.tickY(yMin2, {y: d => d, insetRight: iw - 6, stroke: "#000", strokeWidth: 1.2}),
    Plot.ruleY([yMax], {stroke: "#555", strokeWidth: 1.3}),
    Plot.ruleX([xMax], {stroke: "#555", strokeWidth: 1.3}),
    Plot.ruleX([xMin], {stroke: "#000", strokeWidth: 2}),
    Plot.ruleY([yMin], {stroke: "#000", strokeWidth: 2})
  ];
}
const styleObj = {fontFamily: FONT, fontSize: "20px", background: "transparent", overflow: "visible", color: "#000"};
const yearMinor = d3.range(2016, 2021.001, 0.2).filter(d => Math.abs(d - Math.round(d)) > 0.01);

function scatter(cyan, black, trend, yTicks, yDom, m, padX) {
  const W = 840, H = 360;
  const iw = W - m.l - m.r, ih = H - m.t - m.b;
  const yMinor = d3.range(yDom[0], yDom[1], 2).filter(d => d % 10 !== 0);
  return Plot.plot({
    width: W, height: H, marginLeft: m.l, marginRight: m.r, marginTop: m.t, marginBottom: m.b,
    style: styleObj,
    x: {domain: [2016, 2021], ticks: yearTicks, tickSize: 0, tickPadding: padX, tickFormat: d => String(d), label: null},
    y: {domain: yDom, ticks: yTicks, tickSize: 0, tickPadding: 8, tickFormat: d => String(d), label: null},
    marks: [
      Plot.dot(cyan, {x: "x", y: "v", r: 2.3, fill: "#1ee6ee", dx: 0.6, dy: 2.4}),
      Plot.dot(black, {x: "x", y: "v", r: 2.9, fill: "#000"}),
      Plot.line(trend, {x: "x", y: "v", stroke: "#ff0000", strokeWidth: 3, strokeDasharray: "13,6"}),
      ...frameMarks(2016, 2021, yDom[0], yDom[1], yearTicks, yearMinor, yTicks, yMinor, iw, ih)
    ]
  });
}
function acf(odd, even, m, padX) {
  const W = 480, H = 360;
  const iw = W - m.l - m.r, ih = H - m.t - m.b;
  const data = [...odd.map((v, i) => ({lag: 1 + 2 * i, v})), ...even.map((v, i) => ({lag: 2 + 2 * i, v}))];
  const xMinor = d3.range(20, 600, 20).filter(d => d % 100 !== 0);
  const yMinor = d3.range(-0.18, 0.3, 0.02).filter(d => Math.abs(d * 10 - Math.round(d * 10)) > 0.01);
  return Plot.plot({
    width: W, height: H, marginLeft: m.l, marginRight: m.r, marginTop: m.t, marginBottom: m.b,
    style: styleObj,
    x: {domain: [-10, 600], ticks: lagTicks, tickSize: 0, tickPadding: padX, tickFormat: d => String(d), label: null},
    y: {domain: [-0.2, 0.3], ticks: acfYTicks, tickSize: 0, tickPadding: 9, tickFormat: d => String(d), label: null},
    marks: [
      Plot.ruleX(data, {x: "lag", y1: 0, y2: "v", stroke: "#9b9b9b", strokeWidth: 1.1}),
      Plot.dot(data, {x: "lag", y: "v", r: 2.1, fill: "#1786f0"}),
      ...frameMarks(-10, 600, -0.2, 0.3, lagTicks, xMinor, acfYTicks, yMinor, iw, ih)
    ]
  });
}

// ---------- build series ----------
const txwoBlack = [...yearPts(2016, txwo2016a, txwo2016b), ...yearPts(2017, txwo2017a, txwo2017b),
  ...yearPts(2018, txwo2018a, txwo2018b), ...yearPts(2019, txwo2019a, txwo2019b), ...yearPts(2020, txwo2020a, txwo2020b)];
const txwoCyan = [...txwoBlack, ...pts(ms(txwoFill2017Start), 2, txwoFill2017),
  ...pts(ms(txwoFill2018Start), 2, txwoFill2018), ...pts(ms(txwoFill2019Start), 2, txwoFill2019)];
const txwoTrend = txwoTrendYears.map((x, i) => ({x, v: txwoTrendValues[i]}));

const pa26Black = [...pa26Runs2016.flatMap((r, k) => pts(ms(pa26Runs2016Start[k]), 1, r)),
  ...yearPts(2017, pa26_2017a, pa26_2017b), ...yearPts(2018, pa26_2018a, pa26_2018b),
  ...yearPts(2019, pa26_2019a, pa26_2019b), ...yearPts(2020, pa26_2020a, pa26_2020b)];
const pa26Cyan = [...pts(ms(pa26Fill2016aStart), 2, pa26Fill2016a), ...pts(ms(pa26Fill2016bStart), 4, pa26Fill2016b),
  ...pa26Black, ...pts(ms(pa26Fill2019Start), 2, pa26Fill2019), ...pts(ms(pa26Fill2020Start), 2, pa26Fill2020)];
const pa26Trend = pa26TrendYears.map((x, i) => ({x, v: pa26TrendValues[i]}));

// ---------- panels ----------
place(scatter(txwoCyan, txwoBlack, txwoTrend, txwoYTicks, [-30, 30], {l: 88, r: 22, t: 51, b: 21}, 13), 0, 0);
place(scatter(pa26Cyan, pa26Black, pa26Trend, pa26YTicks, [-40, 20], {l: 84, r: 26, t: 38, b: 34}, 14), 0, 400);
place(acf(txwoAcfOdd, txwoAcfEven, {l: 79, r: 17, t: 51, b: 23}, 16), 850, 0);
place(acf(pa26AcfOdd, pa26AcfEven, {l: 79, r: 17, t: 38, b: 34}, 14), 850, 400);

// ---------- texts ----------
label("Vertical displacement time series (Reference frame: GOM20)", 452, 22, 23.5);
label("ACF of the residual time series", 1120, 19, 23.5);
label("Relative Displacement (mm)", 24, 195, 23, "middle", -90);
label("Relative Displacement (mm)", 21, 583, 23, "middle", -90);
label("Aurocorrelation", 866, 195, 23, "middle", -90);
label("Autocorrelation", 866, 585, 23, "middle", -90);
label("Year", 453, 390, 23);
label("Year", 453, 783, 23);
label("Lag (days)", 1130, 385, 23);
label("Lag (days)", 1120, 782, 23);
label("(a)", 21, 387, 23); label("(b)", 876, 387, 23);
label("(c)", 23, 778, 23); label("(d)", 876, 778, 23);
label("TXWO", 107, 77, 23, "start");
label("TXWO", 964, 80, 23, "start");
label("PA26", 102, 467, 23, "start");
label("PA26", 961, 468, 23, "start");
label("-1.07±0.77 mm/year (95%CI)", 362, 95, 23, "start");
label("-2.30±1.46 mm/year (95%CI)", 263, 507, 23, "start");
label("Measurements: 310 days/year", 112, 315, 21, "start");
label("Data gap", 600, 263, 21, "start");
label("Measurements; 265 days/year", 113, 682, 21, "start");
label("Predicted 95%CI for 5-year continuous daily GNSS data: 0.70 mm/yea", 113, 706, 21, "start");

// legend
const leg = document.createElement("div");
leg.style.cssText = "position:absolute;left:547px;top:446px;width:262px;height:52px;border:1px solid #000;background:#fff;";
fig.appendChild(leg);
function legItem(color, r, cy, text) {
  const dot = document.createElement("div");
  dot.style.cssText = `position:absolute;left:${19 - r}px;top:${cy - r}px;width:${2 * r}px;height:${2 * r}px;border-radius:50%;background:${color};`;
  leg.appendChild(dot);
  const t = document.createElement("div");
  t.className = "lbl"; t.textContent = text;
  t.style.cssText += `left:44px;top:${cy}px;font-size:21px;transform:translate(0,-50%);`;
  leg.appendChild(t);
}
legItem("#1ee6ee", 2.2, 14, "Continuous (gap filled)");
legItem("#000", 3, 38, "Original (with gaps)");
</script></body></html>
